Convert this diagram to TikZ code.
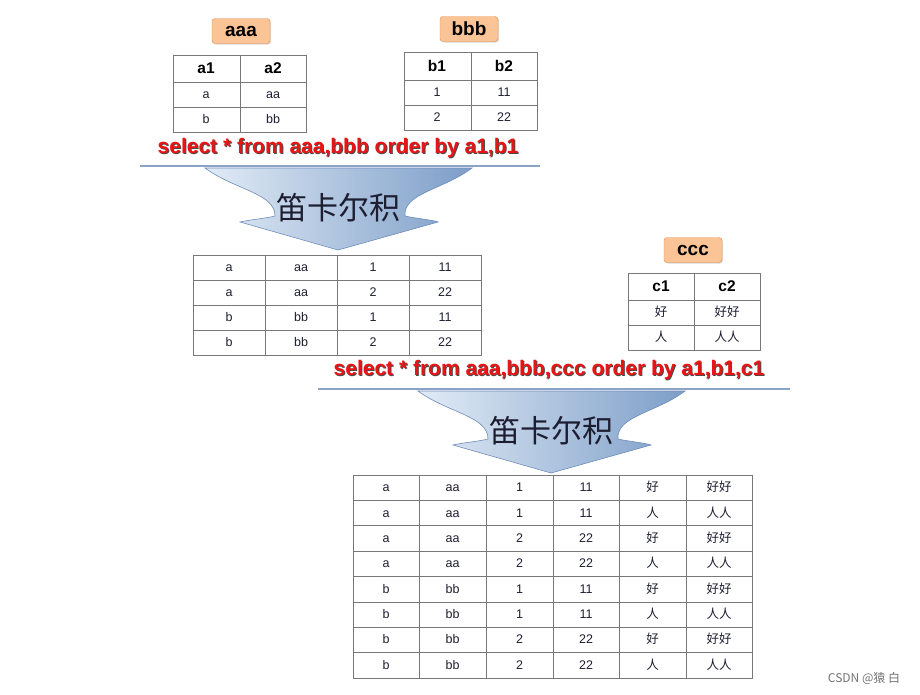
\documentclass[tikz,border=0pt]{standalone}
\usepackage{fontspec}
\setmainfont{Liberation Sans}
\newfontfamily\cjk{Noto Sans CJK SC}
\usetikzlibrary{shadows}
\definecolor{gridc}{RGB}{120,120,120}
\definecolor{lblfill}{RGB}{250,196,150}
\definecolor{lbldraw}{RGB}{230,140,70}
\definecolor{sqlred}{RGB}{235,20,20}
\definecolor{arrl}{RGB}{225,235,246}
\definecolor{arrr}{RGB}{125,158,200}
\definecolor{arrd}{RGB}{110,140,185}
\definecolor{txtc}{RGB}{30,30,50}
\tikzset{
  cell/.style={font=\fontsize{12.5}{13}\selectfont,text=txtc,text height=9pt,text depth=1pt},
  ccell/.style={font=\cjk\fontsize{12.5}{13}\selectfont,text=txtc,text height=9pt,text depth=1pt},
  head/.style={font=\fontsize{15.5}{16}\selectfont\bfseries,text height=11pt,text depth=1pt},
  lbl/.style={draw=lbldraw,fill=lblfill,rounded corners=3pt,minimum width=58pt,minimum height=25pt,font=\fontsize{19}{20}\selectfont\bfseries,inner sep=0pt,drop shadow={shadow xshift=1pt,shadow yshift=-1pt,opacity=0.3}},
  grid/.style={draw=gridc,line width=0.7pt},
  sql/.style={font=\fontsize{21}{22}\selectfont\bfseries,text=sqlred},
  sqlsh/.style={font=\fontsize{21}{22}\selectfont\bfseries,text=black!70},
  sep/.style={draw=arrd!80,line width=1.2pt},
  carrow/.style={draw=arrd,line width=0.6pt,left color=arrl,right color=arrr},
  ctext/.style={font=\cjk\fontsize{31}{33}\selectfont,text=txtc}
}
\newcommand{\cartarrow}[2]{% center x, top y
  \begin{scope}[shift={(#1,#2)}]
  \path[carrow] (-133,0) -- (134,0) .. controls (105,22) and (65,25) .. (67,48)
     .. controls (75,50) and (95,52) .. (100,54) -- (0,82) -- (-98,54)
     .. controls (-90,52) and (-70,50) .. (-63,48) .. controls (-63,25) and (-103,22) .. (-133,0) -- cycle;
  \end{scope}}
\begin{document}
\begin{tikzpicture}[x=1pt,y=-1pt]
\useasboundingbox (0,0) rectangle (920,694);
% aaa
\node[lbl] (laaa) at (241,31) {aaa};
\draw[grid] (173,55) rectangle (306,132); \draw[grid] (173,82)--(306,82) (173,107)--(306,107) (240,55)--(240,132);
\node[head] (ta1) at (206,68.5) {a1}; \node[head] (ta2) at (273,68.5) {a2};
\node[cell] (ta3) at (206,94.5) {a}; \node[cell] (ta4) at (273,94.5) {aa};
\node[cell] (ta5) at (206,119.5) {b}; \node[cell] (ta6) at (273,119.5) {bb};
% bbb
\node[lbl] (lbbb) at (469,29) {bbb};
\draw[grid] (404,52) rectangle (537,130); \draw[grid] (404,80)--(537,80) (404,105)--(537,105) (471,52)--(471,130);
\node[head] (tb1) at (437,66) {b1}; \node[head] (tb2) at (504,66) {b2};
\node[cell] (tb3) at (437,92.5) {1}; \node[cell] (tb4) at (504,92.5) {11};
\node[cell] (tb5) at (437,117.5) {2}; \node[cell] (tb6) at (504,117.5) {22};
% sql1
\node[sqlsh] (s1s) at (339,149) {select * from aaa,bbb order by a1,b1};
\node[sql] (s1) at (338,148) {select * from aaa,bbb order by a1,b1};
\draw[sep] (140,166)--(540,166);
\cartarrow{338}{168}
\node[ctext] (c1) at (338,208) {笛卡尔积};
% table 2
\draw[grid] (193,255) rectangle (481,355);
\foreach \y in {280,305,330} \draw[grid] (193,\y)--(481,\y);
\foreach \x in {265,337,409} \draw[grid] (\x,255)--(\x,355);
\foreach \r/\a/\b/\c/\d [count=\i] in {0/a/aa/1/11,1/a/aa/2/22,2/b/bb/1/11,3/b/bb/2/22}{
  \node[cell] (m\i a) at (229,267.5+25*\r) {\a};
  \node[cell] (m\i b) at (301,267.5+25*\r) {\b};
  \node[cell] (m\i c) at (373,267.5+25*\r) {\c};
  \node[cell] (m\i d) at (445,267.5+25*\r) {\d};}
% ccc
\node[lbl] (lccc) at (693,250) {ccc};
\draw[grid] (628,273) rectangle (760,350); \draw[grid] (628,300)--(760,300) (628,325)--(760,325) (694,273)--(694,350);
\node[head] (tc1) at (661,286.5) {c1}; \node[head] (tc2) at (727,286.5) {c2};
\node[ccell] (tc3) at (661,312.5) {好}; \node[ccell] (tc4) at (727,312.5) {好好};
\node[ccell] (tc5) at (661,337.5) {人}; \node[ccell] (tc6) at (727,337.5) {人人};
% sql2
\node[sqlsh] (s2s) at (550,371) {select * from aaa,bbb,ccc order by a1,b1,c1};
\node[sql] (s2) at (549,370) {select * from aaa,bbb,ccc order by a1,b1,c1};
\draw[sep] (318,389)--(790,389);
\cartarrow{551}{391}
\node[ctext] (c2) at (551,431) {笛卡尔积};
% table 3
\draw[grid] (353,475) rectangle (752,678);
\foreach \k in {1,...,7} \draw[grid] (353,475+25.375*\k)--(752,475+25.375*\k);
\foreach \x in {419,486,553,619,686} \draw[grid] (\x,475)--(\x,678);
\foreach \r/\a/\b/\c/\d/\e/\f [count=\i] in {0/a/aa/1/11/好/好好,1/a/aa/1/11/人/人人,2/a/aa/2/22/好/好好,3/a/aa/2/22/人/人人,4/b/bb/1/11/好/好好,5/b/bb/1/11/人/人人,6/b/bb/2/22/好/好好,7/b/bb/2/22/人/人人}{
  \node[cell] (n\i a) at (386,487.7+25.375*\r) {\a};
  \node[cell] (n\i b) at (452.5,487.7+25.375*\r) {\b};
  \node[cell] (n\i c) at (519.5,487.7+25.375*\r) {\c};
  \node[cell] (n\i d) at (586,487.7+25.375*\r) {\d};
  \node[ccell] (n\i e) at (652.5,487.7+25.375*\r) {\e};
  \node[ccell] (n\i f) at (719,487.7+25.375*\r) {\f};}
\node[font=\cjk\fontsize{12}{13}\selectfont,text=black!55] (wm) at (864,678) {CSDN @猿 白};
\end{tikzpicture}
\end{document}
